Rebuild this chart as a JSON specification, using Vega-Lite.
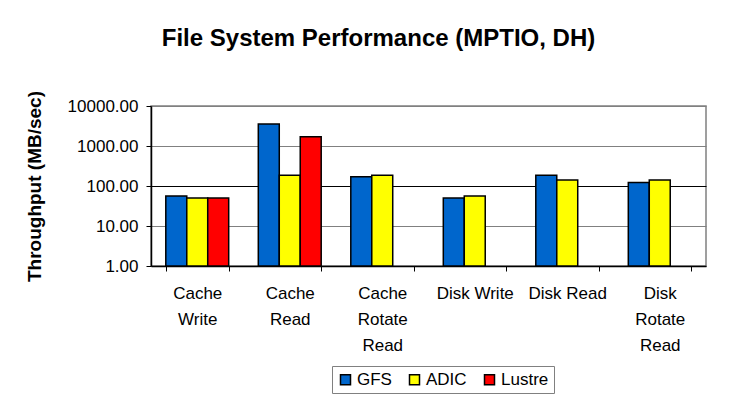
{
  "$schema": "https://vega.github.io/schema/vega-lite/v6.json",
  "autosize": {"type": "none"},
  "padding": {"left": 151, "top": 106, "right": 26, "bottom": 136},
  "width": 555,
  "height": 160,
  "background": "white",
  "title": {
    "text": "File System Performance (MPTIO, DH)",
    "font": "Liberation Sans",
    "fontSize": 24,
    "fontWeight": "bold",
    "color": "black",
    "anchor": "middle",
    "dx": -50,
    "offset": 39
  },
  "data": {
    "values": [
      {"test": "Cache Write", "fs": "GFS", "mbps": 56},
      {"test": "Cache Write", "fs": "ADIC", "mbps": 50},
      {"test": "Cache Write", "fs": "Lustre", "mbps": 50},
      {"test": "Cache Read", "fs": "GFS", "mbps": 3550},
      {"test": "Cache Read", "fs": "ADIC", "mbps": 185},
      {"test": "Cache Read", "fs": "Lustre", "mbps": 1700},
      {"test": "Cache Rotate Read", "fs": "GFS", "mbps": 170},
      {"test": "Cache Rotate Read", "fs": "ADIC", "mbps": 185},
      {"test": "Disk Write", "fs": "GFS", "mbps": 50},
      {"test": "Disk Write", "fs": "ADIC", "mbps": 56},
      {"test": "Disk Read", "fs": "GFS", "mbps": 185},
      {"test": "Disk Read", "fs": "ADIC", "mbps": 141},
      {"test": "Disk Rotate Read", "fs": "GFS", "mbps": 123},
      {"test": "Disk Rotate Read", "fs": "ADIC", "mbps": 141}
    ]
  },
  "mark": {"type": "bar", "stroke": "black", "strokeWidth": 1.5},
  "encoding": {
    "x": {
      "field": "test",
      "type": "nominal",
      "sort": ["Cache Write", "Cache Read", "Cache Rotate Read", "Disk Write", "Disk Read", "Disk Rotate Read"],
      "scale": {"paddingInner": 0.32, "paddingOuter": 0.16},
      "axis": {
        "title": null,
        "labelAngle": 0,
        "labelFont": "Liberation Sans",
        "labelFontSize": 17,
        "labelColor": "black",
        "labelLineHeight": 26,
        "labelBaseline": "top",
        "labelPadding": 14,
        "labelExpr": "!isValid(datum.value) ? '' : ((datum.value == 'Disk Write' || datum.value == 'Disk Read') ? datum.value : split(datum.value, ' '))",
        "tickBand": "extent",
        "tickSize": 5,
        "tickColor": "black",
        "domainColor": "black",
        "domainWidth": 1.5,
        "grid": false
      }
    },
    "xOffset": {
      "field": "fs",
      "type": "nominal",
      "scale": {"domain": ["GFS", "ADIC", "Lustre"], "paddingInner": 0, "paddingOuter": 0}
    },
    "y": {
      "field": "mbps",
      "type": "quantitative",
      "scale": {"type": "log", "domain": [1, 10000], "nice": false},
      "axis": {
        "title": "Throughput (MB/sec)",
        "titleFont": "Liberation Sans",
        "titleFontSize": 19,
        "titleFontWeight": "bold",
        "titleColor": "black",
        "titlePadding": 23,
        "values": [1, 10, 100, 1000, 10000],
        "format": ".2f",
        "labelFont": "Liberation Sans",
        "labelFontSize": 17,
        "labelColor": "black",
        "labelPadding": 8,
        "tickSize": 5,
        "tickColor": "black",
        "domainColor": "black",
        "domainWidth": 1.5,
        "grid": true,
        "gridColor": {"expr": "datum.value == 100 ? 'black' : '#808080'"},
        "gridWidth": 1.2
      }
    },
    "y2": {"datum": 1},
    "color": {
      "field": "fs",
      "type": "nominal",
      "scale": {"domain": ["GFS", "ADIC", "Lustre"], "range": ["#0066CC", "#FFFF00", "#FF0000"]},
      "legend": {
        "title": null,
        "orient": "none",
        "legendX": 181,
        "legendY": 260,
        "direction": "horizontal",
        "symbolType": "square",
        "symbolSize": 100,
        "symbolStrokeColor": "black",
        "symbolStrokeWidth": 1.5,
        "labelFont": "Liberation Sans",
        "labelFontSize": 17,
        "labelColor": "black",
        "labelOffset": 3,
        "columnPadding": 14,
        "padding": 5,
        "strokeColor": "#808080",
        "fillColor": "white"
      }
    }
  },
  "config": {
    "view": {"stroke": "#808080", "strokeWidth": 1.5}
  }
}
